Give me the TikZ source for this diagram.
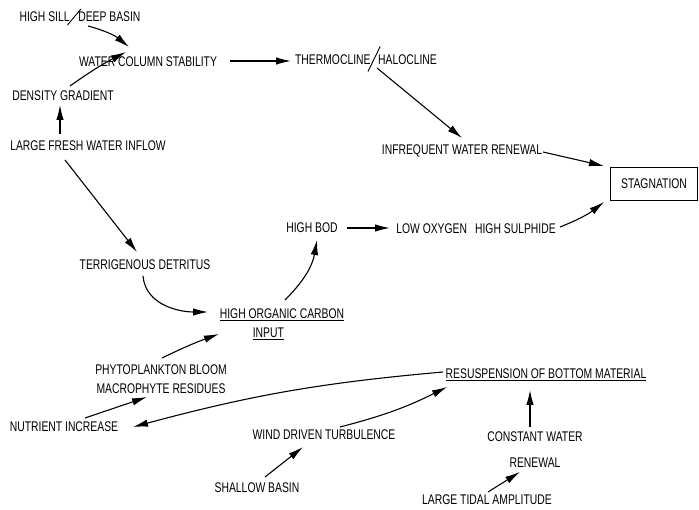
\documentclass[tikz,border=0pt]{standalone}
\usepackage{fontspec}
\newfontfamily\hwfont[FakeStretch=0.74]{Liberation Sans}
\usetikzlibrary{arrows.meta,calc}
\tikzset{
  lbl/.style={font=\hwfont\fontsize{14}{19}\selectfont, inner sep=1pt, align=center},
  arr/.style={draw=black, line width=1.1pt, -{Latex[length=15pt,width=7.5pt]}},
  boxed/.style={lbl, draw=black, line width=1.1pt, minimum width=87pt, minimum height=33pt}
}
\newcommand{\slashA}{\kern-2.5pt\raisebox{-4pt}{\rotatebox{50}{\rule{21pt}{0.9pt}}}\kern-3pt}
\newcommand{\slashB}{\kern-3pt\raisebox{-7pt}{\rotatebox{64}{\rule{28pt}{0.9pt}}}\kern-2.5pt}
\begin{document}
\begin{tikzpicture}[x=1pt,y=-1pt]
\useasboundingbox (0,0) rectangle (699,510);
\fill[white] (0,0) rectangle (699,510);

\node[lbl] (hsdb) at (80,17) {HIGH SILL\slashA DEEP BASIN};
\node[lbl] (wcs) at (148,62) {WATER COLUMN STABILITY};
\node[lbl] (th) at (366,59) {THERMOCLINE\slashB HALOCLINE};
\node[lbl] (dg) at (63,96) {DENSITY GRADIENT};
\node[lbl] (lfwi) at (88,146) {LARGE FRESH WATER INFLOW};
\node[lbl] (iwr) at (462,151) {INFREQUENT WATER RENEWAL};
\node[boxed] (stag) at (654,184) {STAGNATION};
\node[lbl] (hb) at (312,228) {HIGH BOD};
\node[lbl] (lohs) at (476,229) {LOW OXYGEN\hspace{8pt}HIGH SULPHIDE};
\node[lbl] (td) at (145,265) {TERRIGENOUS DETRITUS};
\node[lbl, align=left] (hoc) at (282,324) {\underline{HIGH ORGANIC CARBON}\\\hspace*{33pt}\underline{INPUT}};
\node[lbl] (pb) at (161,379) {PHYTOPLANKTON BLOOM\\MACROPHYTE RESIDUES};
\node[lbl] (ni) at (64,427) {NUTRIENT INCREASE};
\node[lbl] (rbm) at (546,375) {\underline{RESUSPENSION OF BOTTOM MATERIAL}};
\node[lbl] (wdt) at (324,435) {WIND DRIVEN TURBULENCE};
\node[lbl] (cwr) at (535,450) {CONSTANT WATER\\[7pt]RENEWAL};
\node[lbl] (sb) at (257,488) {SHALLOW BASIN};
\node[lbl] (lta) at (487,500) {LARGE TIDAL AMPLITUDE};

% connectors
\draw[arr] ($(hsdb)+(8,9)$) to[bend left=12] ($(wcs)+(-19,-15)$);
\draw[arr] ($(dg)+(7,-10)$) to[bend left=4] ($(wcs)+(-22,-10)$);
\draw[arr] ($(lfwi)+(-28,-12)$) -- ($(dg)+(-3,9)$);
\draw[arr] ($(wcs)+(82,-1)$) -- ($(th)+(-75,2)$);
\draw[arr] ($(th)+(11,9)$) -- ($(iwr)+(0,-13)$);
\draw[arr] ($(iwr)+(81,1)$) -- ($(stag)+(-50,-18)$);
\draw[arr] ($(lohs)+(84,-2)$) to[bend right=8] ($(stag)+(-50,18)$);
\draw[arr] ($(hb)+(35,0)$) -- ($(lohs)+(-86,-1)$);
\draw[arr] ($(lfwi)+(-23,14)$) -- ($(td)+(-8,-13)$);
\draw[arr] ($(td)+(-2,11)$) to[out=-85,in=180] ($(hoc)+(-74,-12)$);
\draw[arr] ($(hoc)+(3,-24)$) to[out=45,in=-100] ($(hb)+(5,12)$);
\draw[arr] ($(pb)+(1,-21)$) to[bend left=3] ($(hoc)+(-63,10)$);
\draw[arr] ($(ni)+(21,-9)$) -- ($(pb)+(-14,18)$);
\draw[arr] ($(rbm)+(-103,-3)$) to[bend right=5] ($(ni)+(69,0)$);
\draw[arr] ($(wdt)+(16,-8)$) to[bend right=6] ($(rbm)+(-99,12)$);
\draw[arr] ($(cwr)+(-5,-23)$) -- ($(rbm)+(-16,15)$);
\draw[arr] ($(sb)+(8,-11)$) -- ($(wdt)+(-21,12)$);
\draw[arr] ($(lta)+(1,-8)$) -- ($(cwr)+(-15,22)$);
\end{tikzpicture}
\end{document}
